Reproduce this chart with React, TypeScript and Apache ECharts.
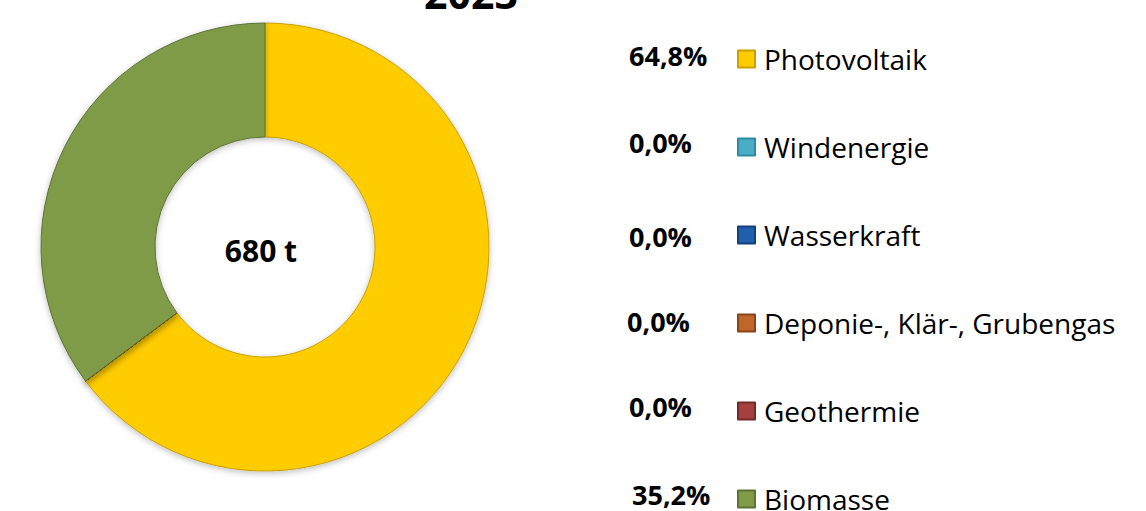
import React, { useEffect, useRef } from "react";
import * as echarts from "echarts";

const title = "2023";
const totalLabel = "680 t";
const categories = [
  "Photovoltaik",
  "Windenergie",
  "Wasserkraft",
  "Deponie-, Klär-, Grubengas",
  "Geothermie",
  "Biomasse",
];
const values = [440.6, 0, 0, 0, 0, 239.4];
const colors = ["#FFCC00", "#4BACC6", "#1F5FAD", "#C0662A", "#A6403E", "#7F9B47"];
const borderColors = ["#C9A000", "#2E8AA3", "#143F78", "#8A4519", "#742A29", "#5C7333"];

const FONT = "'Open Sans', 'Noto Sans', sans-serif";

export default function App() {
  const ref = useRef<HTMLDivElement>(null);
  useEffect(() => {
    document.body.style.margin = "0";
    if (!ref.current) return;
    const chart = echarts.init(ref.current, null, { renderer: "svg" });
    const total = values.reduce((a, b) => a + b, 0);
    const pct = values.map((v) => ((v / total) * 100).toFixed(1).replace(".", ",") + "%");
    const rowTop = 44;
    const rowH = 30;
    const rowGap = 58;
    const pctY = [55, 142, 236, 321, 406, 494];
    const pctX = [629, 629, 629, 627, 629, 632];
    chart.setOption({
      animation: false,
      backgroundColor: "#ffffff",
      legend: {
        orient: "vertical",
        left: 737,
        top: rowTop,
        height: 700,
        padding: 0,
        itemWidth: 17,
        itemHeight: 17,
        itemGap: rowGap,
        icon: "rect",
        selectedMode: false,
        data: categories,
        textStyle: {
          fontFamily: FONT,
          fontSize: 28,
          color: "#000000",
          lineHeight: rowH,
          padding: [0, 0, 0, 4],
        },
      },
      graphic: [
        {
          type: "text",
          style: {
            text: title,
            x: 471,
            y: -7,
            align: "center",
            verticalAlign: "middle",
            fontFamily: FONT,
            fontWeight: "bold",
            fontSize: 41,
            fill: "#000000",
          },
        },
        {
          type: "text",
          style: {
            text: totalLabel,
            x: 261,
            y: 250,
            align: "center",
            verticalAlign: "middle",
            fontFamily: FONT,
            fontWeight: "bold",
            fontSize: 30,
            fill: "#000000",
          },
        },
        ...pct.map((p, i) => ({
          type: "text",
          style: {
            text: p,
            x: pctX[i],
            y: pctY[i],
            align: "left",
            verticalAlign: "middle",
            fontFamily: FONT,
            fontWeight: "bold",
            fontSize: 27,
            fill: "#000000",
          },
        })),
      ],
      series: [
        {
          type: "pie",
          center: [265, 247],
          radius: [110, 224],
          startAngle: 90,
          clockwise: true,
          label: { show: false },
          labelLine: { show: false },
          emphasis: { disabled: true },
          data: categories.map((c, i) => ({
            name: c,
            value: values[i],
            itemStyle: {
              color: colors[i],
              borderColor: borderColors[i],
              borderWidth: 1,
              shadowBlur: 6,
              shadowColor: "rgba(0,0,0,0.25)",
              shadowOffsetY: 2,
            },
          })),
        },
      ],
    });
    return () => chart.dispose();
  }, []);
  return <div ref={ref} style={{ width: 1146, height: 511 }} />;
}
